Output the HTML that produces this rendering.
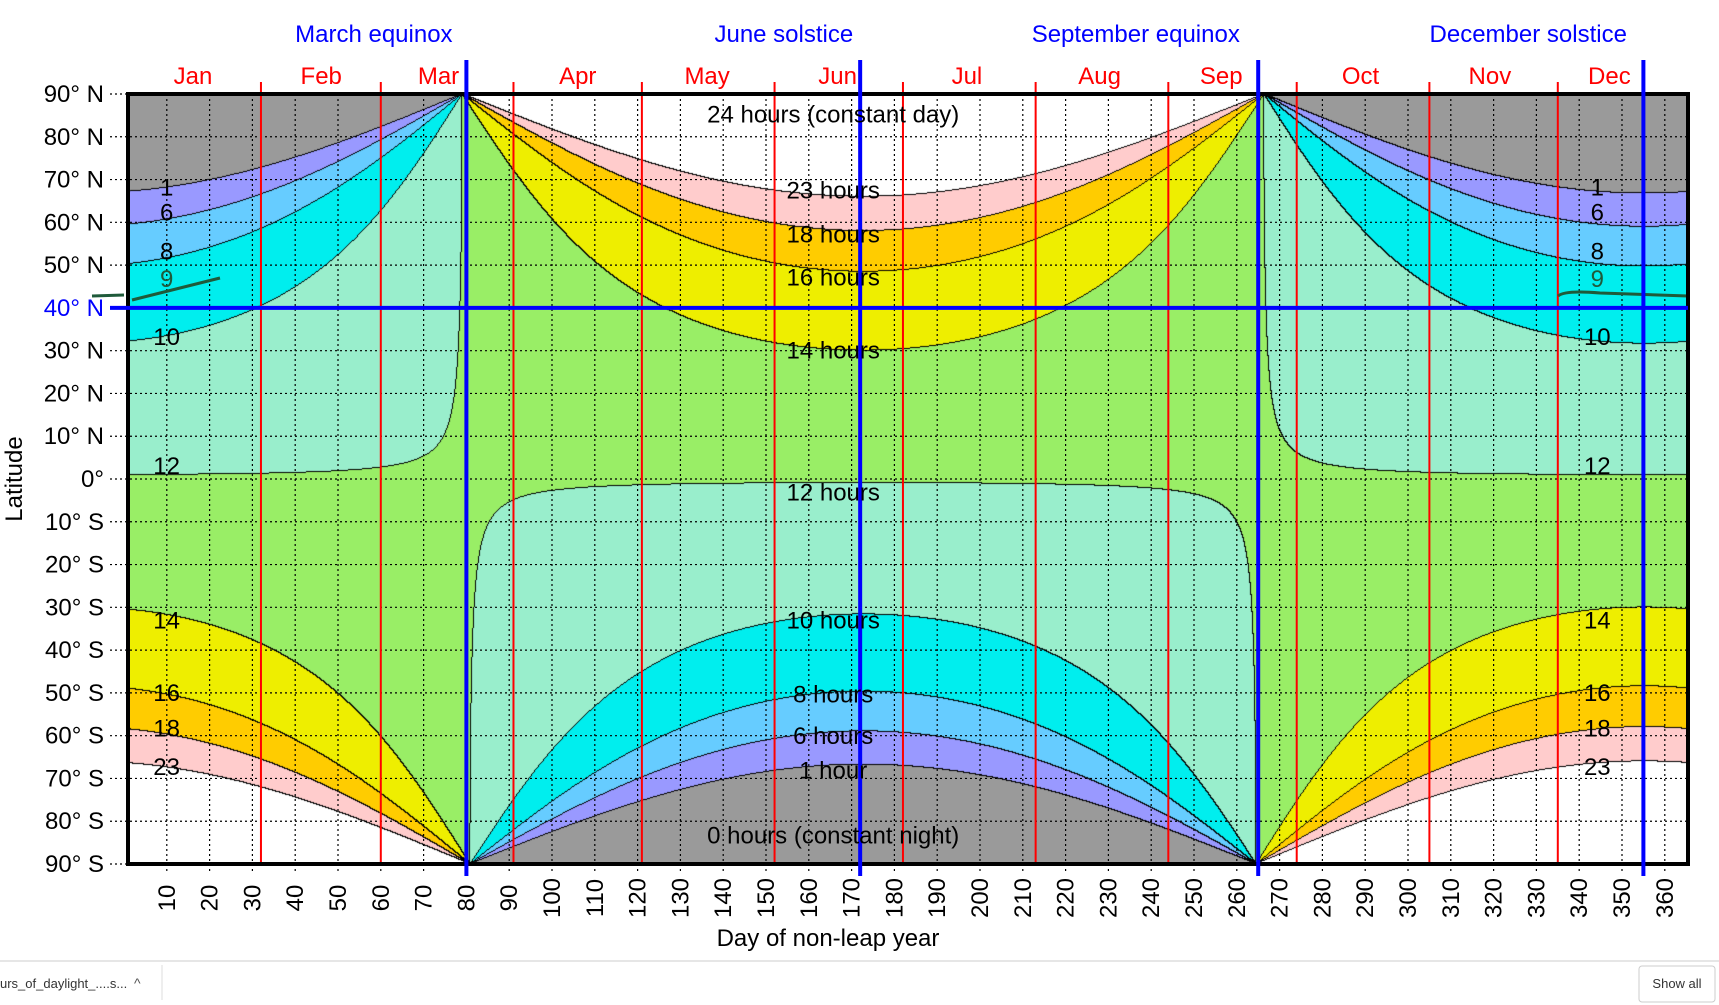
<!DOCTYPE html>
<html><head><meta charset="utf-8">
<style>
html,body{margin:0;padding:0;background:#fff;width:1719px;height:1005px;overflow:hidden;font-family:"Liberation Sans",sans-serif;}
#c{position:absolute;left:128px;top:94px;}
#s{position:absolute;left:0;top:0;}
</style></head><body>
<canvas id="c" width="1560" height="770"></canvas>
<svg id="s" width="1719" height="1005" xmlns="http://www.w3.org/2000/svg" font-family="Liberation Sans, sans-serif">
<g id="grid" stroke="#000" stroke-width="1.2" stroke-dasharray="2,3"></g>
<g id="red" stroke="#ff0000" stroke-width="2"></g>
<path d="M92 296 L124 295 M132 300 L220 278" stroke="#1f5a3a" stroke-width="3" fill="none"/>
<path d="M1558 296 Q1565 290 1600 293 L1688 296" stroke="#1f5a3a" stroke-width="3" fill="none"/>
<rect x="128" y="94" width="1560" height="770" fill="none" stroke="#000" stroke-width="4"/>
<g id="blue" stroke="#0000ff" stroke-width="4"></g>
<g id="txt" font-size="24"></g>
<line x1="0" y1="961" x2="1719" y2="961" stroke="#ddd" stroke-width="1.5"/>
<text x="0" y="988" font-size="13" fill="#333">urs_of_daylight_....s...</text>
<text x="134" y="988" font-size="14" fill="#555">^</text>
<line x1="162" y1="965" x2="162" y2="1000" stroke="#ddd"/>
<rect x="1639" y="966" width="76" height="36" rx="3" fill="#fff" stroke="#ccc"/>
<text x="1677" y="988" font-size="13" fill="#333" text-anchor="middle">Show all</text>
</svg>
<script>
var L=128,T=94,W=1560,H=770;
function X(d){return 124+4.28*d;}
function Y(lat){return T+(90-lat)/180*H;}
var cv=document.getElementById('c'),ctx=cv.getContext('2d');
var img=ctx.createImageData(W,H),p=img.data;
var th=[1,6,8,10,12,14,16,18,23];
var cols=[[154,154,154],[153,153,255],[102,204,255],[0,238,238],[153,238,204],[153,238,102],[238,238,0],[255,204,0],[255,204,204],[255,255,255]];
var band=new Int8Array(W*H);
var sh0=Math.sin(-0.375*Math.PI/180);
function theta(d){
 if(d>=80&&d<=265.5)return Math.PI*(d-80)/185.5;
 var dd=d<80?d+365:d;
 return Math.PI+Math.PI*(dd-265.5)/179.5;
}
for(var i=0;i<W;i++){
 var d=(L+i+0.5-124)/4.28;
 var dec=23.44*Math.PI/180*Math.sin(theta(d));
 var sd=Math.sin(dec),cd=Math.cos(dec);
 for(var j=0;j<H;j++){
  var lat=(90-(j+0.5)/H*180)*Math.PI/180;
  var c=(sh0-Math.sin(lat)*sd)/(Math.cos(lat)*cd);
  var dl;
  if(c>=1)dl=0;else if(c<=-1)dl=24;else dl=2*Math.acos(c)*180/Math.PI/15;
  var b=0;while(b<9&&dl>=th[b])b++;
  band[j*W+i]=b;
 }
}
for(var j=0;j<H;j++)for(var i=0;i<W;i++){
 var b=band[j*W+i],k=(j*W+i)*4,col=cols[b];
 var edge=(i<W-1&&band[j*W+i+1]!=b)||(j<H-1&&band[(j+1)*W+i]!=b);
 if(edge)col=[0,0,0];
 p[k]=col[0];p[k+1]=col[1];p[k+2]=col[2];p[k+3]=255;
}
ctx.putImageData(img,0,0);
var NS='http://www.w3.org/2000/svg';
function el(g,t,a,txt){var e=document.createElementNS(NS,t);for(var k in a)e.setAttribute(k,a[k]);if(txt!==undefined)e.textContent=txt;document.getElementById(g).appendChild(e);return e;}
for(var d=10;d<=360;d+=10){var x=X(d);el('grid','line',{x1:x,y1:T,x2:x,y2:874});
 el('txt','text',{transform:'translate('+(x+8)+',898) rotate(-90)','text-anchor':'middle'},d);}
for(var la=-90;la<=90;la+=10){var y=Y(la);el('grid','line',{x1:110,y1:y,x2:1688,y2:y});
 var s=la==0?'0°':(Math.abs(la)+'° '+(la>0?'N':'S'));
 el('txt','text',{x:104,y:y+8,'text-anchor':'end',fill:la==40?'#0000ff':'#000'},s);}
[32,60,91,121,152,182,213,244,274,305,335].forEach(function(d){el('red','line',{x1:X(d),y1:82,x2:X(d),y2:864});});
[80,172,265,355].forEach(function(d){el('blue','line',{x1:X(d),y1:60,x2:X(d),y2:876});});
el('blue','line',{x1:110,y1:Y(40),x2:1688,y2:Y(40)});
var mon=[['Jan',176],['Feb',293],['Mar',400],['Apr',527],['May',645],['Jun',764],['Jul',882],['Aug',1003],['Sep',1114],['Oct',1241],['Nov',1359],['Dec',1468]];
mon.forEach(function(m){el('txt','text',{x:m[1]*1.0963,y:84,'text-anchor':'middle',fill:'#ff0000'},m[0]);});
[['March equinox',341],['June solstice',715],['September equinox',1036],['December solstice',1394]].forEach(function(m){el('txt','text',{x:m[1]*1.0963,y:42,'text-anchor':'middle',fill:'#0000ff'},m[0]);});
var cx=760*1.0963;
[['24 hours (constant day)',104],['23 hours',173],['18 hours',213],['16 hours',252],['14 hours',318],['12 hours',447],['10 hours',563],['8 hours',630],['6 hours',668],['1 hour',699],['0 hours (constant night)',758]].forEach(function(m){el('txt','text',{x:cx,y:m[1]*1.102+8,'text-anchor':'middle'},m[0]);});
[['1',170],['6',193],['8',228],['9',253],['10',306],['12',423],['14',563],['16',629],['18',661],['23',696]].forEach(function(m){
 var f=m[0]=='9'?'#1f5a3a':'#000';
 el('txt','text',{x:152*1.0963,y:m[1]*1.102+8,'text-anchor':'middle',fill:f},m[0]);
 el('txt','text',{x:1457*1.0963,y:m[1]*1.102+8,'text-anchor':'middle',fill:f},m[0]);});
el('txt','text',{transform:'translate(22,479) rotate(-90)','text-anchor':'middle'},'Latitude');
el('txt','text',{x:828,y:946,'text-anchor':'middle'},'Day of non-leap year');
</script>
</body></html>
